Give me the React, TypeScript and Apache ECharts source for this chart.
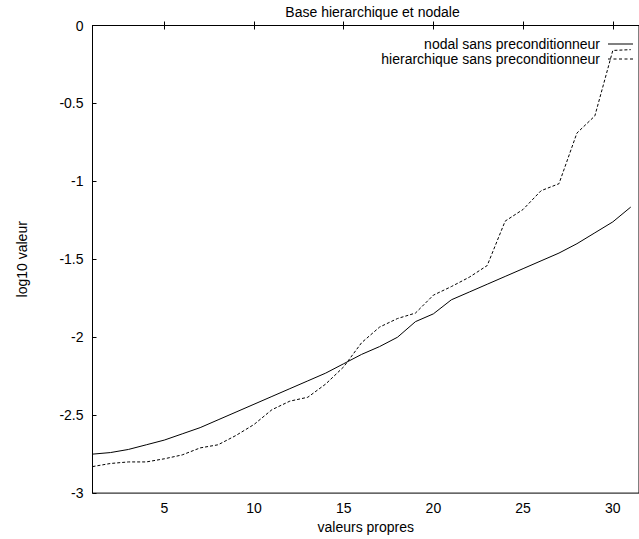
import React, { useEffect, useRef } from "react";
import * as echarts from "echarts";

const title = "Base hierarchique et nodale";
const xName = "valeurs propres";
const yName = "log10 valeur";
const seriesNames = ["nodal sans preconditionneur", "hierarchique sans preconditionneur"];
const eigenIndex = [1, 2, 3, 4, 5, 6, 7, 8, 9, 10, 11, 12, 13, 14, 15, 16, 17, 18, 19, 20, 21, 22, 23, 24, 25, 26, 27, 28, 29, 30, 31];
const nodal = [
  -2.75, -2.74, -2.72, -2.69, -2.66, -2.62, -2.58, -2.53, -2.48, -2.43,
  -2.38, -2.33, -2.28, -2.23, -2.17, -2.11, -2.06, -2.0, -1.9, -1.85,
  -1.76, -1.71, -1.66, -1.61, -1.56, -1.51, -1.46, -1.4, -1.33, -1.26, -1.165,
];
const hierarchique = [
  -2.83, -2.81, -2.8, -2.8, -2.78, -2.755, -2.71, -2.69, -2.63, -2.56,
  -2.465, -2.41, -2.385, -2.3, -2.19, -2.035, -1.935, -1.88, -1.845, -1.73,
  -1.675, -1.615, -1.54, -1.255, -1.18, -1.06, -1.015, -0.69, -0.58, -0.16, -0.155,
];
const xTicks = [5, 10, 15, 20, 25, 30];

const FONT = "'Liberation Sans', Arial, sans-serif";
const SOLID_ICON = "path://M0,0h25v1h-25z";
const DASHED_ICON = "path://M0,0h3v1h-3z M5.5,0h3v1h-3z M11,0h3v1h-3z M16.5,0h3v1h-3z M22,0h3v1h-3z";

export default function App() {
  const ref = useRef<HTMLDivElement>(null);
  useEffect(() => {
    if (!ref.current) return;
    const chart = echarts.init(ref.current, null, { renderer: "svg" });
    const axisText = { color: "#000", fontFamily: FONT, fontSize: 14 };
    chart.setOption({
      animation: false,
      backgroundColor: "#fff",
      title: {
        text: title,
        left: 367.5,
        top: 0,
        textAlign: "center",
        textStyle: { ...axisText, fontWeight: "normal" },
      },
      legend: {
        orient: "vertical",
        right: 6,
        top: 37,
        align: "right",
        itemWidth: 25,
        itemHeight: 14,
        itemGap: 1,
        padding: 0,
        symbolKeepAspect: true,
        itemStyle: { color: "#000", borderWidth: 0 },
        textStyle: { ...axisText, padding: [0, 3, 0, 0], lineHeight: 14 },
        data: [
          { name: seriesNames[0], icon: SOLID_ICON },
          { name: seriesNames[1], icon: DASHED_ICON },
        ],
      },
      grid: {
        left: 92.5,
        right: 0,
        top: 25.5,
        bottom: 40,
        show: true,
        borderColor: "#000",
        borderWidth: 1,
        containLabel: false,
      },
      xAxis: [
        {
          type: "value",
          min: 1,
          max: 31.46,
          name: xName,
          nameLocation: "middle",
          nameGap: 21,
          nameTextStyle: axisText,
          axisLine: { show: true, lineStyle: { color: "#000", width: 1 } },
          axisTick: { show: true, inside: true, length: 4, lineStyle: { color: "#000" }, customValues: xTicks },
          axisLabel: { ...axisText, margin: 8, customValues: xTicks },
          splitLine: { show: false },
        },
        {
          type: "value",
          position: "top",
          min: 1,
          max: 31.46,
          axisLine: { show: false },
          axisTick: { show: true, inside: true, length: 4, lineStyle: { color: "#000" }, customValues: xTicks },
          axisLabel: { show: false, customValues: xTicks },
          splitLine: { show: false },
        },
      ],
      yAxis: {
        type: "value",
        min: -3,
        max: 0,
        interval: 0.5,
        name: yName,
        nameLocation: "middle",
        nameGap: 64,
        nameTextStyle: axisText,
        axisLine: { show: true, lineStyle: { color: "#000", width: 1 } },
        axisTick: { show: true, inside: true, length: 4, lineStyle: { color: "#000" } },
        axisLabel: { ...axisText, margin: 9 },
        splitLine: { show: false },
      },
      series: [
        {
          name: seriesNames[0],
          type: "line",
          xAxisIndex: 0,
          symbol: "none",
          data: eigenIndex.map((x, i) => [x, nodal[i]]),
          lineStyle: { color: "#000", width: 1 },
          itemStyle: { color: "#000" },
        },
        {
          name: seriesNames[1],
          type: "line",
          xAxisIndex: 0,
          symbol: "none",
          data: eigenIndex.map((x, i) => [x, hierarchique[i]]),
          lineStyle: { color: "#000", width: 1, type: [3, 2] },
          itemStyle: { color: "#000" },
        },
      ],
    });
    return () => chart.dispose();
  }, []);
  return <div ref={ref} style={{ width: 639, height: 539, position: "absolute", left: 0, top: 0 }} />;
}
